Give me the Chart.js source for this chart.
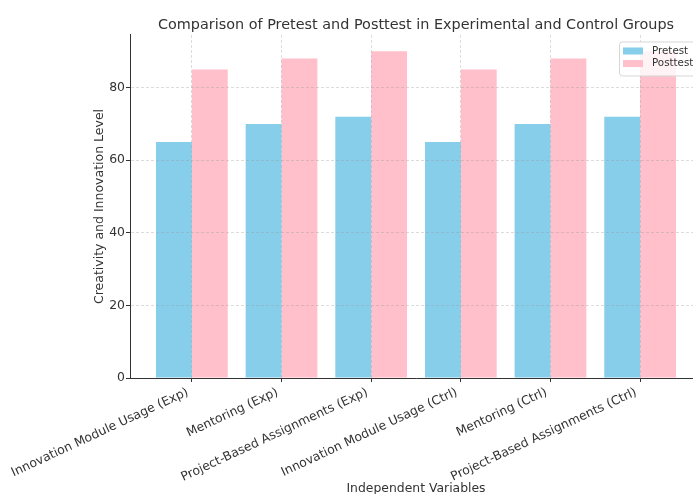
<!DOCTYPE html>
<html>
<head>
<meta charset="utf-8">
<script src="https://cdn.jsdelivr.net/npm/chart.js@4.4.1/dist/chart.umd.min.js"></script>
<style>
  html, body { margin: 0; padding: 0; overflow: hidden; background: #fff; }
  canvas { display: block; }
</style>
</head>
<body>
<canvas id="chart" width="720" height="494"></canvas>
<script>
// Groups on the x axis
const categories = [
  'Innovation Module Usage (Exp)',
  'Mentoring (Exp)',
  'Project-Based Assignments (Exp)',
  'Innovation Module Usage (Ctrl)',
  'Mentoring (Ctrl)',
  'Project-Based Assignments (Ctrl)'
];
// Creativity and innovation scores
const pretest  = [65, 70, 72, 65, 70, 72];
const posttest = [85, 88, 90, 85, 88, 90];
// Value axis ticks
const yTicks = [0, 20, 40, 60, 80];

const FONT = 'DejaVu Sans';
const TEXT = '#333333';
const GRID = 'rgba(150,150,150,0.42)';

// Framed legend in the upper-right corner of the plot
const cornerLegend = {
  id: 'cornerLegend',
  afterDraw(chart) {
    const { ctx, chartArea } = chart;
    const w = 78, h = 34;
    const right = chartArea.right - 5;
    const left = right - w;
    const top = chartArea.top + 6.5;
    ctx.save();
    ctx.beginPath();
    ctx.roundRect(left + 0.5, top + 0.5, w, h, 3);
    ctx.fillStyle = 'rgba(255,255,255,0.8)';
    ctx.fill();
    ctx.strokeStyle = '#d6d6d6';
    ctx.lineWidth = 1;
    ctx.stroke();
    ctx.font = `10.3px "${FONT}"`;
    ctx.textBaseline = 'middle';
    ctx.textAlign = 'left';
    chart.data.datasets.forEach((ds, i) => {
      const cy = top + 9.5 + i * 12.6;
      ctx.fillStyle = ds.backgroundColor;
      ctx.fillRect(left + 4, cy - 3.5, 20, 7);
      ctx.fillStyle = TEXT;
      ctx.fillText(ds.label, left + 33, cy);
    });
    ctx.restore();
  }
};

new Chart(document.getElementById('chart'), {
  type: 'bar',
  data: {
    datasets: [
      {
        label: 'Pretest',
        data: pretest.map((v, i) => ({ x: i, y: v })),
        backgroundColor: '#87CEEB',
        borderWidth: 0,
        categoryPercentage: 0.8,
        barPercentage: 1.0
      },
      {
        label: 'Posttest',
        data: posttest.map((v, i) => ({ x: i, y: v })),
        backgroundColor: '#FFC0CB',
        borderWidth: 0,
        categoryPercentage: 0.8,
        barPercentage: 1.0
      }
    ]
  },
  options: {
    responsive: false,
    animation: false,
    devicePixelRatio: 1,
    layout: { padding: { left: 89, right: 18, top: 0, bottom: 0 } },
    plugins: {
      legend: { display: false },
      tooltip: { enabled: false },
      title: {
        display: true,
        fullSize: false,
        text: 'Comparison of Pretest and Posttest in Experimental and Control Groups',
        color: TEXT,
        font: { family: FONT, size: 14.4, weight: 'normal' },
        padding: { top: 16.5, bottom: 1.2 }
      }
    },
    scales: {
      x: {
        type: 'linear',
        min: -0.69,
        max: 5.69,
        offset: false,
        afterBuildTicks: s => { s.ticks = categories.map((_, i) => ({ value: i })); },
        afterFit: s => { s.height = 116; s.paddingLeft = 0; s.paddingRight = 0; },
        ticks: {
          autoSkip: false,
          minRotation: 25,
          maxRotation: 25,
          padding: 3,
          labelOffset: -4,
          color: TEXT,
          font: { family: FONT, size: 12.4 },
          callback: v => categories[Math.round(v)]
        },
        grid: {
          offset: false,
          color: GRID,
          lineWidth: 0.8,
          z: 1,
          drawTicks: true,
          tickLength: 4,
          tickColor: TEXT,
          tickWidth: 1
        },
        border: { display: true, color: TEXT, width: 1, dash: [3, 2], z: 2 },
        title: {
          display: true,
          text: 'Independent Variables',
          color: TEXT,
          font: { family: FONT, size: 12.4 },
          padding: { top: 4, bottom: -2 }
        }
      },
      y: {
        min: 0,
        max: 94.5,
        afterBuildTicks: s => { s.ticks = yTicks.map(v => ({ value: v })); },
        afterFit: s => { s.width = 41; s.paddingTop = 0; s.paddingBottom = 0; },
        ticks: {
          padding: 1,
          color: TEXT,
          font: { family: FONT, size: 12.4 }
        },
        grid: {
          color: GRID,
          lineWidth: 0.8,
          z: 1,
          drawTicks: true,
          tickLength: 4,
          tickColor: TEXT,
          tickWidth: 1
        },
        border: { display: true, color: TEXT, width: 1, dash: [3, 2], z: 2 },
        title: {
          display: true,
          text: 'Creativity and Innovation Level',
          color: TEXT,
          font: { family: FONT, size: 12.5 },
          padding: { top: 3.6, bottom: 4 }
        }
      }
    }
  },
  plugins: [cornerLegend]
});
</script>
</body>
</html>
